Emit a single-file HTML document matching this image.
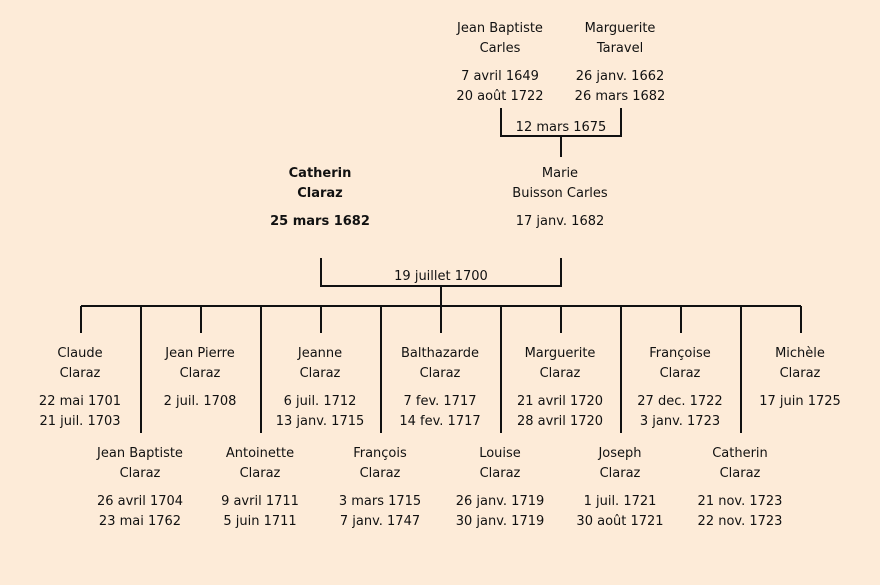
<!DOCTYPE html>
<html><head><meta charset="utf-8"><style>
html,body{margin:0;padding:0;background:#fdebd8;}
svg{display:block}
text{font-family:"Comic Sans MS","DejaVu Sans","Liberation Sans",sans-serif;font-size:13px;fill:#111;text-anchor:middle}
.b{font-weight:bold}
</style></head><body>
<svg width="880" height="585" viewBox="0 0 880 585">
<rect width="880" height="585" fill="#fdebd8"/>
<g stroke="#111" stroke-width="2" fill="none">
<path d="M501 108V136H621V108M561 136V157"/>
<path d="M321 258V286H561V258M441 286V306M81 306H801"/>
<path d="M81 306V333M201 306V333M321 306V333M441 306V333M561 306V333M681 306V333M801 306V333"/>
<path d="M141 306V433M261 306V433M381 306V433M501 306V433M621 306V433M741 306V433"/>
</g>
<text x="500" y="32">Jean Baptiste</text><text x="500" y="52">Carles</text>
<text x="500" y="80">7 avril 1649</text><text x="500" y="100">20 août 1722</text>
<text x="620" y="32">Marguerite</text><text x="620" y="52">Taravel</text>
<text x="620" y="80">26 janv. 1662</text><text x="620" y="100">26 mars 1682</text>
<text x="561" y="131">12 mars 1675</text>
<text x="560" y="177">Marie</text><text x="560" y="197">Buisson Carles</text><text x="560" y="225">17 janv. 1682</text>
<text class="b" x="320" y="177">Catherin</text><text class="b" x="320" y="197">Claraz</text><text class="b" x="320" y="225">25 mars 1682</text>
<text x="441" y="280">19 juillet 1700</text>
<g>
<text x="80" y="357">Claude</text><text x="80" y="377">Claraz</text><text x="80" y="405">22 mai 1701</text><text x="80" y="425">21 juil. 1703</text>
<text x="200" y="357">Jean Pierre</text><text x="200" y="377">Claraz</text><text x="200" y="405">2 juil. 1708</text>
<text x="320" y="357">Jeanne</text><text x="320" y="377">Claraz</text><text x="320" y="405">6 juil. 1712</text><text x="320" y="425">13 janv. 1715</text>
<text x="440" y="357">Balthazarde</text><text x="440" y="377">Claraz</text><text x="440" y="405">7 fev. 1717</text><text x="440" y="425">14 fev. 1717</text>
<text x="560" y="357">Marguerite</text><text x="560" y="377">Claraz</text><text x="560" y="405">21 avril 1720</text><text x="560" y="425">28 avril 1720</text>
<text x="680" y="357">Françoise</text><text x="680" y="377">Claraz</text><text x="680" y="405">27 dec. 1722</text><text x="680" y="425">3 janv. 1723</text>
<text x="800" y="357">Michèle</text><text x="800" y="377">Claraz</text><text x="800" y="405">17 juin 1725</text>
<text x="140" y="457">Jean Baptiste</text><text x="140" y="477">Claraz</text><text x="140" y="505">26 avril 1704</text><text x="140" y="525">23 mai 1762</text>
<text x="260" y="457">Antoinette</text><text x="260" y="477">Claraz</text><text x="260" y="505">9 avril 1711</text><text x="260" y="525">5 juin 1711</text>
<text x="380" y="457">François</text><text x="380" y="477">Claraz</text><text x="380" y="505">3 mars 1715</text><text x="380" y="525">7 janv. 1747</text>
<text x="500" y="457">Louise</text><text x="500" y="477">Claraz</text><text x="500" y="505">26 janv. 1719</text><text x="500" y="525">30 janv. 1719</text>
<text x="620" y="457">Joseph</text><text x="620" y="477">Claraz</text><text x="620" y="505">1 juil. 1721</text><text x="620" y="525">30 août 1721</text>
<text x="740" y="457">Catherin</text><text x="740" y="477">Claraz</text><text x="740" y="505">21 nov. 1723</text><text x="740" y="525">22 nov. 1723</text>
</g>
</svg>
</body></html>
